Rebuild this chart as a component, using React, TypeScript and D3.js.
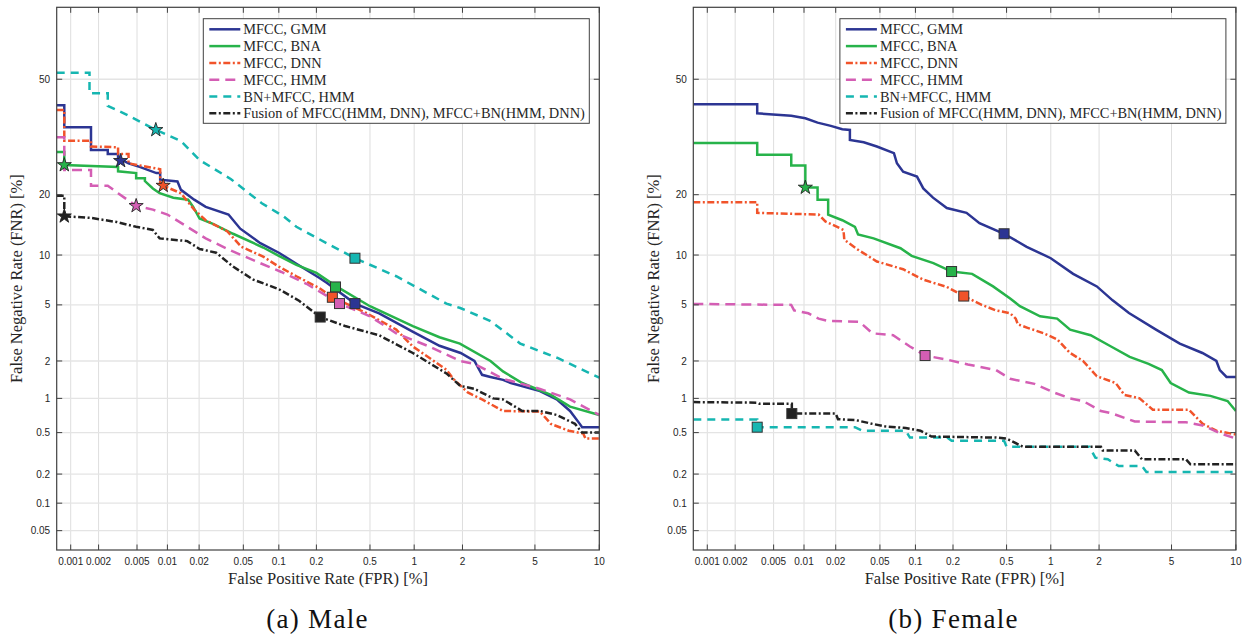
import React from "react";
import * as d3 from "d3";

// axis settings (percent)
const xTicks = [0.001, 0.002, 0.005, 0.01, 0.02, 0.05, 0.1, 0.2, 0.5, 1, 2, 5, 10];
const yTicks = [0.05, 0.1, 0.2, 0.5, 1, 2, 5, 10, 20, 50];
const xLimits = [0.0007, 10];
const yLimits = [0.03, 70];

const seriesNames = [
  "MFCC, GMM",
  "MFCC, BNA",
  "MFCC, DNN",
  "MFCC, HMM",
  "BN+MFCC, HMM",
  "Fusion of MFCC(HMM, DNN), MFCC+BN(HMM, DNN)",
];
const seriesColors = ["#2c3593", "#27b34a", "#f1532a", "#d45eb4", "#16b6b1", "#222222"];
const seriesDash = ["", "", "7,2.5,2,2.5", "10,6", "8,6", "7,2.5,2,2.5"];

type Pt = [number, number];

// (a) Male : [FPR %, FNR %]
const maleGmm: Pt[] = [
  [0.0007, 42.5], [0.00085, 42.5], [0.00085, 36.3], [0.00166, 36.3], [0.00166, 30.3], [0.0025, 30.3],
  [0.0025, 29.3], [0.0032, 29.3], [0.0032, 28.3], [0.0041, 27.0], [0.0054, 26.1], [0.0078, 24.7],
  [0.0085, 24.7], [0.0085, 23.2], [0.0125, 22.8], [0.0135, 21.0], [0.018, 19.0], [0.023, 17.6],
  [0.037, 16.2], [0.047, 13.8], [0.07, 11.6], [0.1, 10.3], [0.14, 8.9], [0.21, 7.4], [0.24, 6.9],
  [0.39, 5.1], [0.58, 4.4], [0.97, 3.3], [1.45, 2.6], [1.95, 2.3], [2.35, 2.0], [2.6, 1.56],
  [2.9, 1.5], [3.4, 1.42], [3.75, 1.34], [5.3, 1.15], [6.4, 0.98], [7.4, 0.78], [8.2, 0.6],
  [8.4, 0.56], [10, 0.56],
];
const maleBna: Pt[] = [
  [0.0007, 29.8], [0.00085, 29.8], [0.00085, 26.6], [0.0032, 26.1], [0.0032, 25.1], [0.0049, 24.7],
  [0.0049, 23.5], [0.006, 23.5], [0.006, 22.9], [0.0072, 21.3], [0.0084, 20.3], [0.0114, 19.4],
  [0.0158, 19.0], [0.0176, 17.6], [0.0202, 15.5], [0.0268, 14.6], [0.0406, 13.0], [0.074, 11.0],
  [0.1, 9.9], [0.139, 8.8], [0.2, 7.9], [0.28, 6.6], [0.5, 4.9], [0.98, 3.6], [1.45, 3.0],
  [1.93, 2.7], [2.9, 2.0], [3.4, 1.66], [4.3, 1.34], [6.0, 1.07], [7.4, 0.85], [10, 0.72],
];
const maleDnn: Pt[] = [
  [0.0007, 41.1], [0.00085, 41.1], [0.00085, 32.7], [0.00166, 32.7], [0.00166, 31.2], [0.0032, 31.0],
  [0.0032, 29.3], [0.0041, 29.3], [0.0041, 27.0], [0.0085, 25.6], [0.0085, 22.6], [0.0091, 21.9],
  [0.0135, 20.3], [0.018, 17.1], [0.023, 15.2], [0.036, 13.4], [0.048, 11.1], [0.074, 9.8],
  [0.1, 8.6], [0.139, 7.55], [0.21, 6.4], [0.265, 5.6], [0.47, 4.42], [0.76, 3.4], [0.98, 2.57],
  [1.6, 1.71], [1.76, 1.45], [2.15, 1.12], [2.6, 0.98], [3.4, 0.78], [5.3, 0.77], [6.0, 0.6],
  [7.3, 0.52], [8.5, 0.49], [8.7, 0.44], [10, 0.44],
];
const maleHmm: Pt[] = [
  [0.0007, 33.6], [0.00085, 33.6], [0.00085, 25.4], [0.00166, 25.4], [0.00166, 21.9], [0.0025, 21.9],
  [0.0032, 20.3], [0.0049, 17.8], [0.0072, 17.1], [0.01, 16.2], [0.0155, 14.1], [0.023, 12.3],
  [0.04, 10.5], [0.07, 9.0], [0.105, 8.0], [0.167, 6.8], [0.3, 5.1], [0.5, 4.2], [0.76, 3.2],
  [1.25, 2.57], [1.94, 2.0], [2.35, 1.9], [3.4, 1.45], [5.3, 1.2], [7.4, 0.98], [10, 0.72],
];
const maleBnHmm: Pt[] = [
  [0.0007, 51.9], [0.0016, 51.9], [0.0016, 45.9], [0.0025, 45.9], [0.0025, 42.3], [0.004, 39.7],
  [0.0077, 35.6], [0.0135, 32.6], [0.0202, 27.8], [0.039, 23.3], [0.072, 18.3], [0.109, 15.9],
  [0.139, 14.1], [0.24, 11.6], [0.39, 9.6], [0.76, 7.55], [1.6, 5.1], [1.94, 4.77], [2.9, 3.9],
  [4.2, 2.7], [6.5, 2.1], [10, 1.48],
];
const maleFusion: Pt[] = [
  [0.0007, 19.8], [0.00085, 19.8], [0.00085, 15.9], [0.00166, 15.6], [0.0031, 14.9], [0.0049, 14.1],
  [0.0072, 13.6], [0.0084, 12.3], [0.0155, 11.9], [0.0202, 10.8], [0.0287, 10.3], [0.0406, 8.6],
  [0.061, 7.2], [0.1, 6.3], [0.147, 5.3], [0.214, 4.15], [0.33, 3.6], [0.58, 3.1], [0.98, 2.3],
  [1.6, 1.6], [1.94, 1.27], [2.35, 1.2], [3.0, 1.0], [3.4, 0.98], [4.3, 0.78], [5.3, 0.78],
  [6.4, 0.72], [7.8, 0.6], [8.4, 0.5], [10, 0.5],
];
const maleStars: (Pt | null)[] = [
  [0.0034, 27.6], [0.00085, 26.6], [0.0091, 21.9], [0.0049, 17.8], [0.0077, 35.6], [0.00085, 15.9],
];
const maleSquares: (Pt | null)[] = [
  [0.39, 5.1], [0.28, 6.5], [0.265, 5.6], [0.3, 5.1], [0.39, 9.6], [0.214, 4.15],
];

// (b) Female : [FPR %, FNR %]
const femaleGmm: Pt[] = [
  [0.0007, 42.8], [0.0034, 42.8], [0.0034, 40.2], [0.0075, 39.5], [0.0103, 38.8], [0.0135, 37.6],
  [0.018, 36.7], [0.023, 35.8], [0.027, 35.6], [0.027, 32.9], [0.036, 32.3], [0.047, 31.2],
  [0.066, 29.5], [0.07, 27.0], [0.079, 25.0], [0.103, 23.9], [0.116, 21.3], [0.139, 19.4],
  [0.179, 17.4], [0.254, 16.5], [0.318, 14.7], [0.48, 13.0], [0.69, 11.1], [1.0, 9.6], [1.39, 7.8],
  [1.94, 6.55], [2.4, 5.35], [2.97, 4.42], [4.16, 3.4], [5.5, 2.7], [7.07, 2.3], [8.2, 2.0],
  [8.5, 1.7], [9.1, 1.5], [10, 1.5],
];
const femaleBna: Pt[] = [
  [0.0007, 32.1], [0.0034, 32.1], [0.0034, 29.1], [0.0075, 29.1], [0.0075, 26.5], [0.0103, 26.5],
  [0.0103, 21.5], [0.0135, 21.5], [0.0135, 19.0], [0.017, 19.0], [0.017, 16.2], [0.023, 15.2],
  [0.03, 14.1], [0.032, 12.9], [0.044, 12.3], [0.075, 10.9], [0.093, 9.9], [0.14, 9.0], [0.195, 8.05],
  [0.28, 7.8], [0.4, 6.55], [0.53, 5.5], [0.62, 4.9], [0.85, 4.2], [1.1, 4.05], [1.33, 3.4],
  [1.78, 3.1], [2.35, 2.57], [3.0, 2.15], [3.8, 1.9], [4.46, 1.7], [4.95, 1.34], [6.1, 1.12],
  [7.7, 1.05], [9.2, 0.95], [10, 0.78],
];
const femaleDnn: Pt[] = [
  [0.0007, 18.5], [0.0034, 18.5], [0.0034, 16.5], [0.0138, 16.2], [0.016, 15.0], [0.0236, 13.6],
  [0.024, 12.1], [0.0312, 10.8], [0.047, 9.2], [0.079, 8.3], [0.116, 7.2], [0.179, 6.5],
  [0.242, 5.7], [0.33, 5.0], [0.42, 4.6], [0.53, 4.4], [0.58, 4.05], [0.6, 3.7], [0.7, 3.5],
  [0.9, 3.2], [1.1, 2.9], [1.33, 2.3], [1.6, 2.0], [1.94, 1.52], [2.5, 1.34], [2.8, 1.07],
  [3.4, 1.0], [4.0, 0.8], [6.1, 0.8], [7.1, 0.6], [8.2, 0.52], [10, 0.48],
];
const femaleHmm: Pt[] = [
  [0.0007, 5.07], [0.0075, 5.0], [0.008, 4.6], [0.011, 4.4], [0.0138, 4.05], [0.0171, 3.9],
  [0.033, 3.85], [0.043, 3.2], [0.065, 3.1], [0.09, 2.57], [0.12, 2.2], [0.179, 2.05], [0.26, 1.88],
  [0.42, 1.7], [0.53, 1.45], [0.78, 1.32], [1.05, 1.12], [1.33, 1.0], [1.6, 0.95], [2.05, 0.78],
  [2.4, 0.74], [3.2, 0.63], [5.9, 0.62], [7.1, 0.58], [8.6, 0.49], [10, 0.44],
];
const femaleBnHmm: Pt[] = [
  [0.0007, 0.655], [0.0034, 0.655], [0.0034, 0.56], [0.03, 0.56], [0.035, 0.52], [0.083, 0.52],
  [0.09, 0.45], [0.18, 0.45], [0.195, 0.42], [0.48, 0.42], [0.5, 0.37], [1.75, 0.37], [1.9, 0.29],
  [2.25, 0.28], [2.6, 0.24], [3.5, 0.24], [3.7, 0.21], [10, 0.21],
];
const femaleFusion: Pt[] = [
  [0.0007, 0.93], [0.0034, 0.92], [0.0036, 0.9], [0.0076, 0.9], [0.0076, 0.74], [0.02, 0.74],
  [0.021, 0.66], [0.03, 0.65], [0.043, 0.6], [0.055, 0.57], [0.083, 0.55], [0.11, 0.52],
  [0.135, 0.46], [0.42, 0.45], [0.5, 0.44], [0.65, 0.37], [2.05, 0.37], [2.1, 0.34], [3.2, 0.34],
  [3.5, 0.28], [5.9, 0.28], [6.2, 0.25], [10, 0.25],
];
const femaleStars: (Pt | null)[] = [null, [0.0103, 21.5], null, null, null, null];
const femaleSquares: (Pt | null)[] = [
  [0.48, 13.0], [0.195, 8.05], [0.242, 5.7], [0.12, 2.2], [0.0034, 0.56], [0.0076, 0.74],
];

// inverse normal CDF (Acklam)
function probit(p: number) {
  const a = [-39.69683028665376, 220.9460984245205, -275.9285104469687, 138.357751867269, -30.66479806614716, 2.506628277459239];
  const b = [-54.47609879822406, 161.5858368580409, -155.6989798598866, 66.80131188771972, -13.28068155288572];
  const c = [-0.007784894002430293, -0.3223964580411365, -2.400758277161838, -2.549732539343734, 4.374664141464968, 2.938163982698783];
  const d = [0.007784695709041462, 0.3224671290700398, 2.445134137142996, 3.754408661907416];
  const pl = 0.02425;
  if (p < pl) {
    const q = Math.sqrt(-2 * Math.log(p));
    return (((((c[0] * q + c[1]) * q + c[2]) * q + c[3]) * q + c[4]) * q + c[5]) /
      ((((d[0] * q + d[1]) * q + d[2]) * q + d[3]) * q + 1);
  }
  if (p <= 1 - pl) {
    const q = p - 0.5, r = q * q;
    return ((((((a[0] * r + a[1]) * r + a[2]) * r + a[3]) * r + a[4]) * r + a[5]) * q) /
      (((((b[0] * r + b[1]) * r + b[2]) * r + b[3]) * r + b[4]) * r + 1);
  }
  const q = Math.sqrt(-2 * Math.log(1 - p));
  return -(((((c[0] * q + c[1]) * q + c[2]) * q + c[3]) * q + c[4]) * q + c[5]) /
    ((((d[0] * q + d[1]) * q + d[2]) * q + d[3]) * q + 1);
}

const serifStyle = { fontFamily: '"Liberation Serif", "DejaVu Serif", serif' };
const sansStyle = { fontFamily: '"Liberation Sans", "DejaVu Sans", sans-serif' };

function Panel({ id, x0, curves, stars, squares, caption, captionX }: {
  id: string; x0: number; curves: Pt[][]; stars: (Pt | null)[]; squares: (Pt | null)[];
  caption: string; captionX: number;
}) {
  const width = 542.6;
  const top = 7.3;
  const bottom = 550;
  const zx = d3.scaleLinear()
    .domain([probit(xLimits[0] / 100), probit(xLimits[1] / 100)])
    .range([x0, x0 + width]);
  const zy = d3.scaleLinear()
    .domain([probit(yLimits[0] / 100), probit(yLimits[1] / 100)])
    .range([bottom, top]);
  const sx = (v: number) => zx(probit(v / 100));
  const sy = (v: number) => zy(probit(v / 100));
  const line = d3.line<Pt>().x(d => sx(d[0])).y(d => sy(d[1]));
  const starPath = d3.symbol().type(d3.symbolStar).size(62)() as string;
  const tick = 5.5;

  const lx = x0 + 146.6;
  const lw = 386;
  const ly = 18.7;
  const rowH = 16.8;

  return (
    <g>
      <defs>
        <clipPath id={id}>
          <rect x={x0} y={top} width={width} height={bottom - top} />
        </clipPath>
      </defs>
      <rect x={x0} y={top} width={width} height={bottom - top} fill="#fff" />
      {/* grid */}
      {xTicks.map(t => (
        <line key={"gx" + t} x1={sx(t)} x2={sx(t)} y1={top} y2={bottom} stroke="#dedede" strokeWidth={1} />
      ))}
      {yTicks.map(t => (
        <line key={"gy" + t} x1={x0} x2={x0 + width} y1={sy(t)} y2={sy(t)} stroke="#e4e4e4" strokeWidth={1.3} />
      ))}
      {/* curves */}
      <g clipPath={`url(#${id})`}>
        {curves.map((c, i) => (
          <path key={i} d={line(c) as string} fill="none" stroke={seriesColors[i]} strokeWidth={2.5}
            strokeDasharray={seriesDash[i] || undefined} />
        ))}
        {squares.map((p, i) => p && (
          <rect key={"sq" + i} x={sx(p[0]) - 5} y={sy(p[1]) - 5} width={10} height={10}
            fill={seriesColors[i]} stroke="#333" strokeWidth={1} />
        ))}
        {stars.map((p, i) => p && (
          <path key={"st" + i} d={starPath} transform={`translate(${sx(p[0])},${sy(p[1])})`}
            fill={seriesColors[i]} stroke="#222" strokeWidth={0.9} />
        ))}
      </g>
      {/* box and ticks */}
      <rect x={x0} y={top} width={width} height={bottom - top} fill="none" stroke="#404040" strokeWidth={1.2} />
      {xTicks.map(t => (
        <g key={"tx" + t}>
          <line x1={sx(t)} x2={sx(t)} y1={bottom} y2={bottom - tick} stroke="#404040" strokeWidth={1} />
          <line x1={sx(t)} x2={sx(t)} y1={top} y2={top + tick} stroke="#404040" strokeWidth={1} />
          <text x={sx(t)} y={565} textAnchor="middle" style={sansStyle} fontSize={10} fill="#262626">{t}</text>
        </g>
      ))}
      {yTicks.map(t => (
        <g key={"ty" + t}>
          <line x1={x0} x2={x0 + tick} y1={sy(t)} y2={sy(t)} stroke="#404040" strokeWidth={1} />
          <line x1={x0 + width} x2={x0 + width - tick} y1={sy(t)} y2={sy(t)} stroke="#404040" strokeWidth={1} />
          <text x={x0 - 6.5} y={sy(t) + 3.6} textAnchor="end" style={sansStyle} fontSize={10} fill="#262626">{t}</text>
        </g>
      ))}
      {/* axis titles */}
      <text x={x0 + width / 2} y={584} textAnchor="middle" style={serifStyle} fontSize={16.5} fill="#262626">
        False Positive Rate (FPR) [%]
      </text>
      <text transform={`translate(${x0 - 34.5},${(top + bottom) / 2}) rotate(-90)`} textAnchor="middle"
        style={serifStyle} fontSize={16.5} fill="#262626">
        False Negative Rate (FNR) [%]
      </text>
      {/* legend */}
      <rect x={lx} y={ly} width={lw} height={104.6} fill="#fff" stroke="#404040" strokeWidth={1} />
      {seriesNames.map((n, i) => {
        const yy = ly + 10.6 + i * rowH;
        return (
          <g key={"lg" + i}>
            <line x1={lx + 6} x2={lx + 37} y1={yy} y2={yy} stroke={seriesColors[i]} strokeWidth={2.5}
              strokeDasharray={seriesDash[i] || undefined} />
            <text x={lx + 40} y={yy + 5} style={serifStyle} fontSize={14.4} fill="#262626">{n}</text>
          </g>
        );
      })}
      <text x={captionX} y={628} textAnchor="middle" style={serifStyle} fontSize={27} letterSpacing={1.3} fill="#111">
        {caption}
      </text>
    </g>
  );
}

export default function App() {
  return (
    <div style={{ position: "absolute", left: 0, top: 0 }}>
      <svg width={1252} height={636} style={{ display: "block", background: "#fff" }}>
        <Panel id="clipMale" x0={56.7}
          curves={[maleGmm, maleBna, maleDnn, maleHmm, maleBnHmm, maleFusion]}
          stars={maleStars} squares={maleSquares} caption="(a) Male" captionX={317.5} />
        <Panel id="clipFemale" x0={693.3}
          curves={[femaleGmm, femaleBna, femaleDnn, femaleHmm, femaleBnHmm, femaleFusion]}
          stars={femaleStars} squares={femaleSquares} caption="(b) Female" captionX={953.5} />
      </svg>
    </div>
  );
}
